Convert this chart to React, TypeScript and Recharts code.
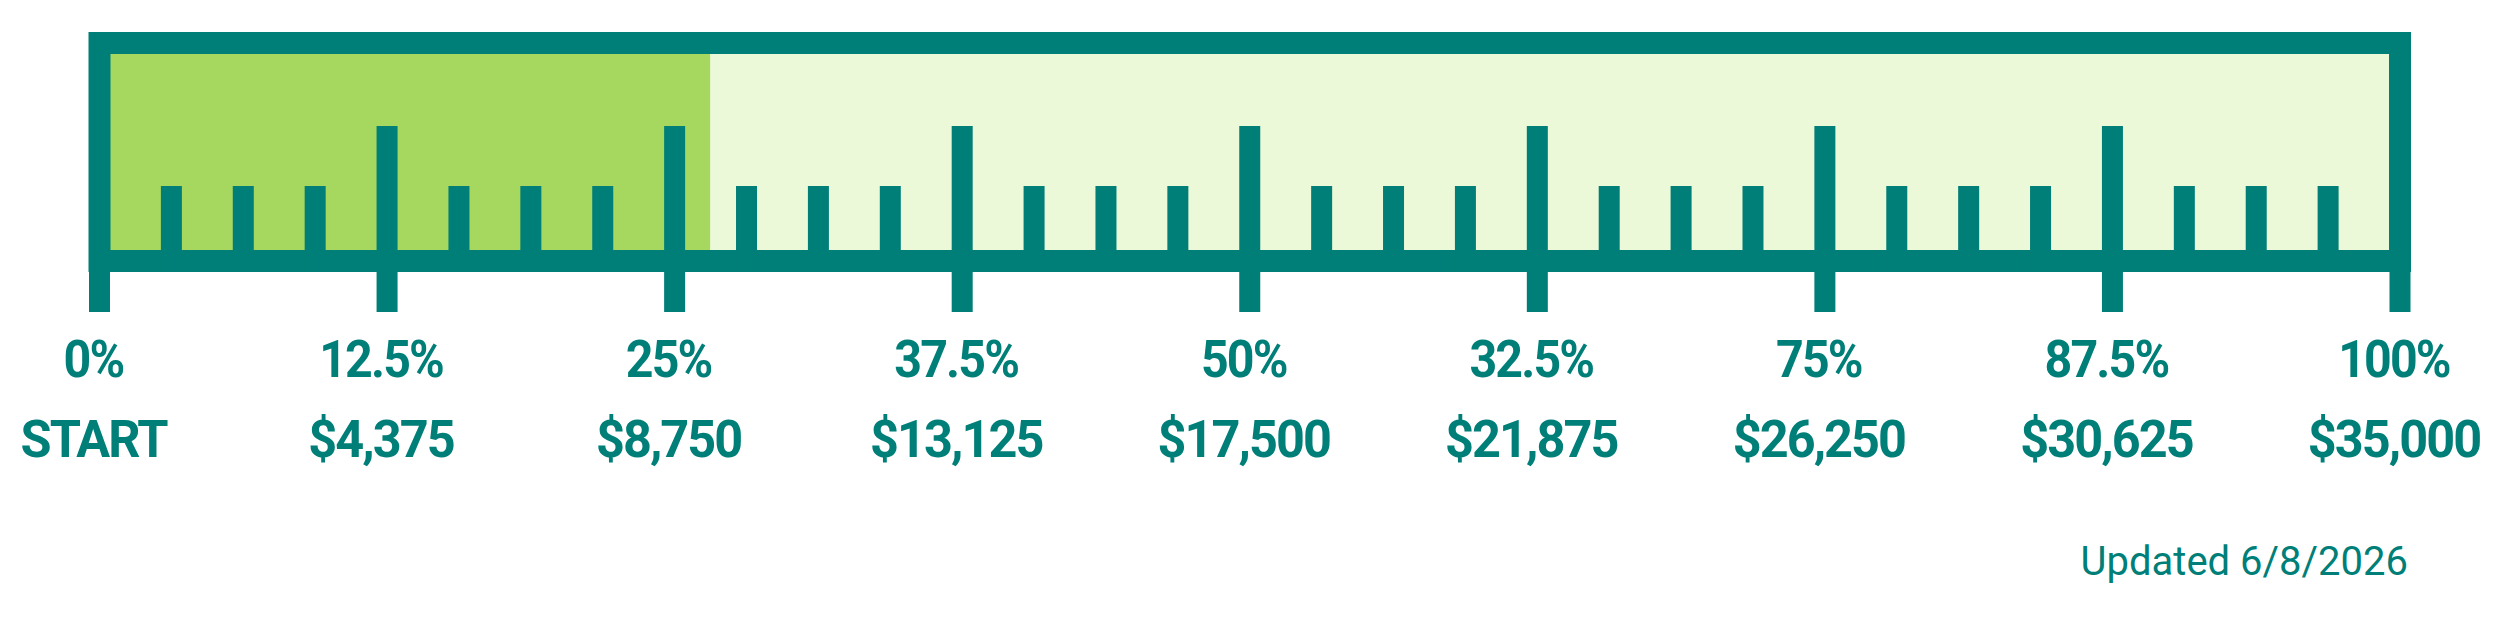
import React from "react"
import { BarChart, Bar, XAxis, YAxis, ReferenceArea } from "recharts"

// fundraising goal and amount raised so far
const goal = 35000
const raised = 9290

const majorTicks = [0, 4375, 8750, 13125, 17500, 21875, 26250, 30625, 35000]
const minorTicks = [
  1093.75, 2187.5, 3281.25, 5468.75, 6562.5, 7656.25, 9843.75, 10937.5, 12031.25, 14218.75, 15312.5, 16406.25,
  18593.75, 19687.5, 20781.25, 22968.75, 24062.5, 25156.25, 27343.75, 28437.5, 29531.25, 31718.75, 32812.5, 33906.25,
]
const percentLabels = ["0%", "12.5%", "25%", "37.5%", "50%", "32.5%", "75%", "87.5%", "100%"]
const amountLabels = ["START", "$4,375", "$8,750", "$13,125", "$17,500", "$21,875", "$26,250", "$30,625", "$35,000"]
const updatedText = "Updated 6/8/2026"

const teal = "#007f78"
const green = "#a6d75f"
const paleGreen = "#ecf9d8"

const chartData = [{ name: "raised", raised }]
const allTicks = [...majorTicks, ...minorTicks].sort((a, b) => a - b)

const labelStyle = {
  fontFamily: "Roboto, sans-serif",
  fontWeight: 700,
  fontSize: 52,
  letterSpacing: -2,
}

function RulerTick(props: any) {
  const { x, y, payload } = props
  const i = majorTicks.indexOf(payload.value)
  if (i < 0) {
    return <rect x={x - 10.5} y={y - 75} width={21} height={86} fill={teal} />
  }
  return (
    <g>
      <rect x={x - 10.5} y={y - 135} width={21} height={186} fill={teal} />
      <text
        transform={`translate(${x - 6} ${y + 116}) scale(0.93 1)`}
        textAnchor="middle"
        fill={teal}
        style={labelStyle}
      >
        {percentLabels[i]}
      </text>
      <text
        transform={`translate(${x - 6} ${y + 196}) scale(0.97 1)`}
        textAnchor="middle"
        fill={teal}
        style={labelStyle}
      >
        {amountLabels[i]}
      </text>
    </g>
  )
}

export default function App() {
  return (
    <div style={{ position: "absolute", left: 0, top: 0, width: 2500, height: 625, background: "#fff" }}>
      <BarChart
        width={2500}
        height={625}
        data={chartData}
        layout="vertical"
        margin={{ top: 43, right: 100, bottom: 0, left: 99.5 }}
        barCategoryGap={0}
      >
        <YAxis type="category" dataKey="name" hide />
        <Bar dataKey="raised" fill={green} background={{ fill: paleGreen }} isAnimationActive={false} />
        <ReferenceArea
          x1={0}
          x2={goal}
          fill="none"
          fillOpacity={0}
          stroke={teal}
          strokeWidth={22}
          zIndex={650}
        />
        <XAxis
          type="number"
          domain={[0, goal]}
          ticks={allTicks}
          interval={0}
          height={364}
          axisLine={false}
          tickLine={false}
          tickSize={0}
          tickMargin={0}
          tick={<RulerTick />}
          zIndex={700}
        />
      </BarChart>
      <svg width={2500} height={625} style={{ position: "absolute", left: 0, top: 0, pointerEvents: "none" }}>
        <text
          x={2408}
          y={575}
          textAnchor="end"
          fill={teal}
          style={{ fontFamily: "Roboto, sans-serif", fontWeight: 400, fontSize: 40 }}
        >
          {updatedText}
        </text>
      </svg>
    </div>
  )
}
